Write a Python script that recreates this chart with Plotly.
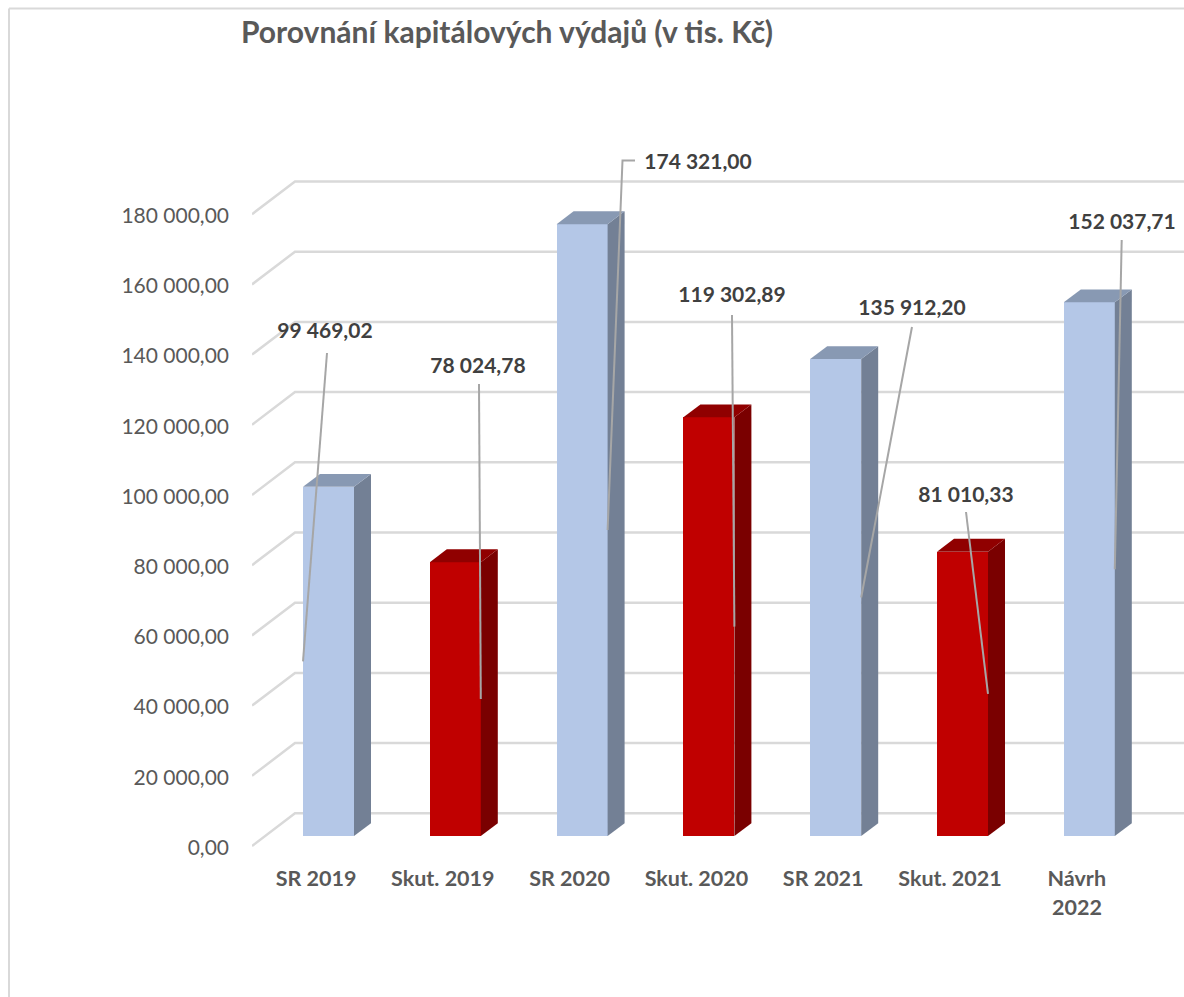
import plotly.graph_objects as go

categories = ["SR 2019", "Skut. 2019", "SR 2020", "Skut. 2020", "SR 2021", "Skut. 2021", "Návrh"]
values = [99469.02, 78024.78, 174321.00, 119302.89, 135912.20, 81010.33, 152037.71]
value_labels = ["99 469,02", "78 024,78", "174 321,00", "119 302,89", "135 912,20", "81 010,33", "152 037,71"]
axis_values = [0, 20000, 40000, 60000, 80000, 100000, 120000, 140000, 160000, 180000]
axis_labels = ["0,00", "20 000,00", "40 000,00", "60 000,00", "80 000,00", "100 000,00",
               "120 000,00", "140 000,00", "160 000,00", "180 000,00"]
title = "Porovnání kapitálových výdajů (v tis. Kč)"

# Layout geometry (screen pixels)
W, H = 1184, 997
PL, PB = 252, 855          # plot-area left and bottom
BASE_Y = 836.0             # bar foot
PX_PER_UNIT = 70.2 / 20000
STEP = 126.8               # px between bars
X0 = 328.5                 # first bar centre
BAR_W = 51
SIDE_DX, SIDE_DY = 17, 12.8
WALL_DY = 22.7             # back wall above bar foot
FRONT_DY = -10.0           # axis front edge below bar foot
TICK_DY = -11.5            # tick label centres below bar foot
WALL_X, RIGHT_X = 295, 1184

px = lambda d: d / STEP            # horizontal px -> category units
py = lambda d: d / PX_PER_UNIT     # vertical px -> value units
xpx = lambda p: (p - X0) / STEP
ypx = lambda p: (BASE_Y - p) / PX_PER_UNIT

BLUE = dict(front="#B4C7E7", top="#8899B3", side="#738095")
RED = dict(front="#C00000", top="#900000", side="#7A0000")
palette = [BLUE, RED, BLUE, RED, BLUE, RED, BLUE]
FONT = "Lato, Carlito, sans-serif"

fig = go.Figure()
idx = list(range(len(values)))

# Front faces
fig.add_trace(go.Bar(
    x=idx, y=values, width=px(BAR_W),
    marker=dict(color=[c["front"] for c in palette], line=dict(width=0)),
    showlegend=False, hoverinfo="skip",
))

# Side and top faces
hw, dx, dy = px(BAR_W) / 2, px(SIDE_DX), py(SIDE_DY)
for i, v, c in zip(idx, values, palette):
    xl, xr = i - hw, i + hw
    fig.add_trace(go.Scatter(
        x=[xr, xr + dx, xr + dx, xr, xr], y=[0, dy, v + dy, v, 0],
        mode="lines", fill="toself", fillcolor=c["side"], line=dict(width=0),
        showlegend=False, hoverinfo="skip"))
    fig.add_trace(go.Scatter(
        x=[xl, xr, xr + dx, xl + dx, xl], y=[v, v, v + dy, v + dy, v],
        mode="lines", fill="toself", fillcolor=c["top"], line=dict(width=0),
        showlegend=False, hoverinfo="skip"))

# Leader lines and value labels (screen-pixel anchors of label centres / line starts)
label_centres = [(325, 333), (478, 368), (698, 164), (732, 297), (912, 310), (966, 497), (1122, 224)]
leader_starts = [[(327, 353)], [(479, 384)], [(635, 160.5), (622.5, 160.5)], [(732, 315)],
                 [(912, 327)], [(966, 512)], [(1121.7, 240)]]
leader_side = [-1, 1, 1, 1, 1, 1, 1]
for i, v, starts, s in zip(idx, values, leader_starts, leader_side):
    fig.add_trace(go.Scatter(
        x=[xpx(a) for a, _ in starts] + [i + s * hw],
        y=[ypx(b) for _, b in starts] + [v / 2],
        mode="lines", line=dict(color="#A6A6A6", width=2),
        showlegend=False, hoverinfo="skip"))
fig.add_trace(go.Scatter(
    x=[xpx(a) for a, _ in label_centres], y=[ypx(b) for _, b in label_centres],
    mode="text", text=[f"<b>{t}</b>" for t in value_labels],
    textposition="middle center",
    textfont=dict(family=FONT, size=21, color="#404040"),
    showlegend=False, hoverinfo="skip"))

# Gridlines: floor diagonal plus back wall, below the bars
shapes = []
for v in axis_values:
    y_front, y_back = v + py(FRONT_DY), v + py(WALL_DY)
    shapes.append(dict(
        type="path", layer="below", xref="x", yref="y",
        path=f"M {xpx(PL)} {y_front} L {xpx(WALL_X)} {y_back} L {xpx(RIGHT_X)} {y_back}",
        line=dict(color="#D9D9D9", width=2.5)))

# Outer frame (left and top edges)
frame_x = (9 - PL) / (W - PL)
frame_y = (PB - 8.5) / PB
shapes.append(dict(type="line", xref="paper", yref="paper", layer="below",
                   x0=frame_x, x1=frame_x, y0=(PB - H) / PB, y1=frame_y,
                   line=dict(color="#D9D9D9", width=2)))
shapes.append(dict(type="line", xref="paper", yref="paper", layer="below",
                   x0=frame_x, x1=1, y0=frame_y, y1=frame_y,
                   line=dict(color="#D9D9D9", width=2)))

fig.update_layout(
    width=W, height=H, autosize=False,
    margin=dict(l=PL, r=0, t=0, b=H - PB, pad=0),
    paper_bgcolor="white", plot_bgcolor="rgba(0,0,0,0)",
    shapes=shapes, showlegend=False, bargap=0,
    title=dict(text=f"<b>{title}</b>", x=241 / W, xanchor="left", xref="container",
               y=1 - 32 / H, yanchor="middle", yref="container",
               font=dict(family=FONT, size=30, color="#595959")),
    xaxis=dict(
        range=[xpx(PL), xpx(W)],
        tickmode="array", tickvals=[i + px(-12.5) for i in idx],
        ticktext=[f"<b>{c}</b>" for c in categories],
        tickfont=dict(family=FONT, size=21.5, color="#595959"),
        showgrid=False, zeroline=False, showline=False, ticks="", ticklabelstandoff=8),
    yaxis=dict(
        range=[ypx(PB), ypx(0)],
        tickmode="array", tickvals=[v + py(TICK_DY) for v in axis_values],
        ticktext=axis_labels,
        tickfont=dict(family=FONT, size=21, color="#595959"),
        showgrid=False, zeroline=False, showline=False, ticks="", ticklabelstandoff=22),
    annotations=[dict(text="<b>2022</b>", xref="x", yref="paper", x=6 + px(-12.5), y=(PB - 907) / PB,
                      showarrow=False, xanchor="center", yanchor="middle",
                      font=dict(family=FONT, size=21.5, color="#595959"))],
)

fig.write_html("out.html", config=dict(displayModeBar=False),
               post_script="document.body.style.margin='0';document.body.style.overflow='hidden';")
